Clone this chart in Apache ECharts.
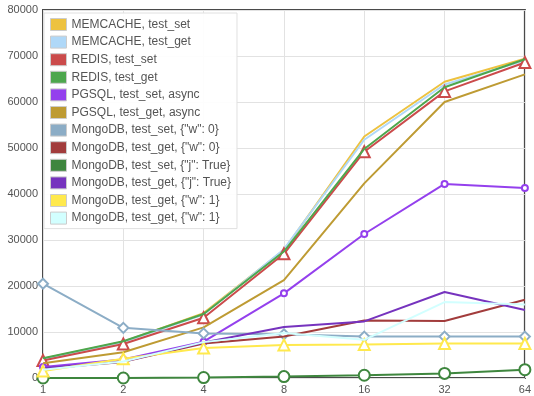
<!DOCTYPE html>
<html>
<head>
<meta charset="utf-8">
<script src="https://cdn.jsdelivr.net/npm/echarts@6/dist/echarts.min.js"></script>
<style>
html, body { margin: 0; padding: 0; background: #fff; }
#chart { width: 534px; height: 396px; }
</style>
</head>
<body>
<div id="chart"></div>
<script>
// x轴: 并发数
var threads = ['1', '2', '4', '8', '16', '32', '64'];

var names = [
    'MEMCACHE, test_set',
    'MEMCACHE, test_get',
    'REDIS, test_set',
    'REDIS, test_get',
    'PGSQL, test_set, async',
    'PGSQL, test_get, async',
    'MongoDB, test_set, {"w": 0}',
    'MongoDB, test_get, {"w": 0}',
    'MongoDB, test_set, {"j": True}',
    'MongoDB, test_get, {"j": True}',
    'MongoDB, test_get, {"w": 1}',
    'MongoDB, test_get, {"w": 1} '
];

var memcacheSet = [4200, 7900, 14100, 27800, 52500, 64400, 69400];
var memcacheGet = [4100, 7800, 13800, 28000, 51800, 63800, 69000];
var redisSet    = [3800, 7400, 13100, 27000, 49200, 62300, 68600];
var redisGet    = [4300, 8000, 13900, 27500, 49800, 63200, 69300];
var pgsqlSet    = [2400, 4000, 7900, 18400, 31300, 42200, 41300];
var pgsqlGet    = [3200, 5600, 11000, 21300, 42300, 60000, 66000];
var mongoSetW0  = [20500, 10900, 9700, 9500, 9000, 9000, 9000];
var mongoGetW0  = [2000, 3500, 7500, 9000, 12500, 12400, 17000];
var mongoSetJ   = [0, 0, 100, 300, 600, 1000, 1800];
var mongoGetJ   = [2100, 3600, 7700, 11100, 12300, 18700, 14800];
var mongoGetW1a = [1500, 4200, 6500, 7200, 7300, 7500, 7500];
var mongoGetW1b = [1800, 3600, 7800, 9800, 8300, 16500, 16000];

var yTicks = [0, 80000, 10000]; // min, max, interval

var seriesData = [memcacheSet, memcacheGet, redisSet, redisGet, pgsqlSet, pgsqlGet,
    mongoSetW0, mongoGetW0, mongoSetJ, mongoGetJ, mongoGetW1a, mongoGetW1b];

// flot 默认配色
var colorArray = ['#edc240', '#afd8f8', '#cb4b4b', '#4da74d', '#9440ed',
    '#be9b33', '#8cadc6', '#a23c3c', '#3e863e', '#7633be', '#ffe94d', '#d2ffff'];

var symbols = {
    2: ['emptyTriangle', 11],
    4: ['emptyCircle', 6],
    6: ['emptyDiamond', 10],
    8: ['emptyCircle', 11],
    10: ['emptyTriangle', 11]
};

function buildSeries() {
    var list = [];
    for (var i = 0; i < names.length; i++) {
        var sym = symbols[i];
        list.push({
            name: names[i],
            type: 'line',
            data: seriesData[i],
            showSymbol: !!sym,
            symbol: sym ? sym[0] : 'none',
            symbolSize: sym ? sym[1] : 0,
            lineStyle: { color: colorArray[i], width: 2 },
            itemStyle: { color: colorArray[i], borderWidth: 2 },
            z: 2 + i
        });
    }
    return list;
}

function drawChart(id) {
    var myChart = echarts.init(document.getElementById(id)),
        option = {
            animation: false,
            color: colorArray,
            textStyle: { fontFamily: 'Liberation Sans, Arial, sans-serif' },
            grid: {
                left: 43,
                right: 7,
                top: 10,
                bottom: 18,
                show: true,
                borderColor: '#4a4a4a',
                borderWidth: 2
            },
            legend: {
                orient: 'vertical',
                left: 44,
                top: 13,
                padding: [5, 6, 4, 6],
                icon: 'rect',
                itemWidth: 16,
                itemHeight: 12,
                itemGap: 4.6,
                backgroundColor: 'rgba(255,255,255,0.92)',
                borderColor: '#e0e0e0',
                borderWidth: 1,
                itemStyle: { borderColor: '#ccc', borderWidth: 1 },
                textStyle: { fontSize: 12, color: '#545454' },
                data: names
            },
            xAxis: {
                type: 'category',
                boundaryGap: false,
                data: threads,
                axisLine: { show: false },
                axisTick: { show: false },
                axisLabel: { color: '#545454', fontSize: 11, margin: 6 },
                splitLine: { show: true, lineStyle: { color: '#e2e2e2' } }
            },
            yAxis: {
                type: 'value',
                min: yTicks[0],
                max: yTicks[1],
                interval: yTicks[2],
                axisLine: { show: false },
                axisTick: { show: false },
                axisLabel: {
                    color: '#545454',
                    fontSize: 11,
                    margin: 5,
                    formatter: function (v) { return String(v); }
                },
                splitLine: { show: true, lineStyle: { color: '#e2e2e2' } }
            },
            series: buildSeries()
        };

    myChart.setOption(option);
}

drawChart('chart');
</script>
</body>
</html>
